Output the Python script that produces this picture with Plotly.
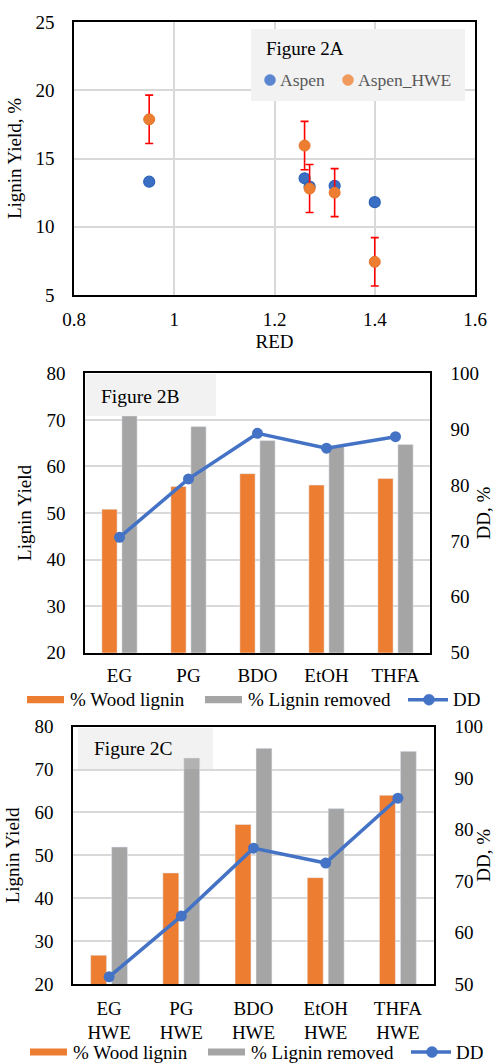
import plotly.graph_objects as go

W, H = 494, 1063
FONT = "Liberation Serif, Times New Roman, DejaVu Serif, serif"

# ---------------- Data ----------------
# Figure 2A
red_aspen = [0.95, 1.26, 1.27, 1.32, 1.40]
yield_aspen = [13.3, 13.55, 12.95, 13.0, 11.8]
red_hwe = [0.95, 1.26, 1.27, 1.32, 1.40]
yield_hwe = [17.87, 15.95, 12.8, 12.5, 7.43]
err_hwe = [1.77, 1.77, 1.76, 1.76, 1.77]

# Figure 2B
cats_b = ["EG", "PG", "BDO", "EtOH", "THFA"]
wood_b = [50.8, 55.7, 58.45, 56.0, 57.4]
removed_b = [70.85, 68.55, 65.55, 64.4, 64.7]
dd_b = [70.65, 81.1, 89.25, 86.6, 88.65]

# Figure 2C
cats_c = ["EG<br>HWE", "PG<br>HWE", "BDO<br>HWE", "EtOH<br>HWE", "THFA<br>HWE"]
wood_c = [26.7, 45.9, 57.2, 44.8, 64.0]
removed_c = [51.95, 72.7, 74.95, 60.9, 74.25]
dd_c = [51.4, 63.2, 76.4, 73.5, 86.1]

ORANGE = "#ed7d31"
GRAY = "#a5a5a5"
BLUE = "#4472c4"
GRID = "#d9d9d9"


def px_x(p):
    return p / W


def px_y(p):
    return 1 - p / H


fig = go.Figure()

# ---- Panel A ----
fig.add_trace(go.Scatter(
    x=red_aspen, y=yield_aspen, mode="markers", name="Aspen",
    marker=dict(color="#3a6fc4", size=11, line=dict(color="#2c62b8", width=1.2)),
    xaxis="x", yaxis="y", showlegend=False))
fig.add_trace(go.Scatter(
    x=red_hwe, y=yield_hwe, mode="markers", name="Aspen_HWE",
    marker=dict(color=ORANGE, size=11, line=dict(color="#e57528", width=1)),
    error_y=dict(type="data", array=err_hwe, visible=True, color="#ff0000",
                 thickness=1.6, width=4),
    xaxis="x", yaxis="y", showlegend=False))

# ---- Panel B ----
fig.add_trace(go.Bar(x=cats_b, y=wood_b, name="% Wood lignin", marker_color=ORANGE,
                     xaxis="x2", yaxis="y2", showlegend=False))
fig.add_trace(go.Bar(x=cats_b, y=removed_b, name="% Lignin removed", marker_color=GRAY,
                     xaxis="x2", yaxis="y2", showlegend=False))
fig.add_trace(go.Scatter(x=cats_b, y=dd_b, name="DD", mode="lines+markers",
                         line=dict(color=BLUE, width=3.5), marker=dict(color=BLUE, size=11),
                         xaxis="x2", yaxis="y3", showlegend=False))

# ---- Panel C ----
fig.add_trace(go.Bar(x=cats_c, y=wood_c, name="% Wood lignin", marker_color=ORANGE,
                     xaxis="x3", yaxis="y4", showlegend=False))
fig.add_trace(go.Bar(x=cats_c, y=removed_c, name="% Lignin removed", marker_color=GRAY,
                     xaxis="x3", yaxis="y4", showlegend=False))
fig.add_trace(go.Scatter(x=cats_c, y=dd_c, name="DD", mode="lines+markers",
                         line=dict(color=BLUE, width=3.5), marker=dict(color=BLUE, size=11),
                         xaxis="x3", yaxis="y5", showlegend=False))

tickfont = dict(family=FONT, size=19, color="black")
titlefont = dict(family=FONT, size=19, color="black")
frame = dict(showline=True, linecolor="black", linewidth=1.6, zeroline=False, automargin=False)
hidden_ticks = dict(ticks="outside", tickcolor="rgba(0,0,0,0)")

fig.update_layout(
    width=W, height=H, autosize=False,
    margin=dict(l=0, r=0, t=0, b=0),
    paper_bgcolor="white", plot_bgcolor="white",
    barmode="group", bargap=0.42, bargroupgap=0.24,
    font=dict(family=FONT, size=19, color="black"),
    showlegend=False,
    # Panel A axes
    xaxis=dict(domain=[px_x(74), px_x(475)], anchor="y", range=[0.8, 1.6], dtick=0.2,
               showgrid=True, gridcolor=GRID, gridwidth=1.5, mirror=True, ticklen=6,
               tickfont=tickfont, title=dict(text="RED", font=titlefont, standoff=6),
               **frame, **hidden_ticks),
    yaxis=dict(domain=[px_y(295), px_y(22)], anchor="x", range=[5, 25], dtick=5,
               showgrid=True, gridcolor=GRID, gridwidth=1.5, mirror=True, ticklen=14,
               tickfont=tickfont, title=dict(text="Lignin Yield, %", font=titlefont, standoff=9),
               **frame, **hidden_ticks),
    # Panel B axes
    xaxis2=dict(domain=[px_x(85), px_x(430)], anchor="y2", type="category",
                showgrid=False, mirror=True, ticklen=5, tickfont=tickfont,
                **frame, **hidden_ticks),
    yaxis2=dict(domain=[px_y(652.7), px_y(373.3)], anchor="x2", range=[20, 80], dtick=10,
                showgrid=True, gridcolor=GRID, gridwidth=1.5, ticklen=14, tickfont=tickfont,
                title=dict(text="Lignin Yield", font=titlefont, standoff=10),
                **frame, **hidden_ticks),
    yaxis3=dict(overlaying="y2", anchor="x2", side="right", range=[50, 100], dtick=10,
                showgrid=False, ticklen=15, tickfont=tickfont,
                title=dict(text="DD, %", font=titlefont, standoff=6),
                **frame, **hidden_ticks),
    # Panel C axes
    xaxis3=dict(domain=[px_x(73), px_x(434)], anchor="y4", type="category",
                showgrid=False, mirror=True, ticklen=6, tickfont=tickfont,
                **frame, **hidden_ticks),
    yaxis4=dict(domain=[px_y(984), px_y(726.7)], anchor="x3", range=[20, 80], dtick=10,
                showgrid=True, gridcolor=GRID, gridwidth=1.5, ticklen=14, tickfont=tickfont,
                title=dict(text="Lignin Yield", font=titlefont, standoff=10),
                **frame, **hidden_ticks),
    yaxis5=dict(overlaying="y4", anchor="x3", side="right", range=[50, 100], dtick=10,
                showgrid=False, ticklen=15, tickfont=tickfont,
                title=dict(text="DD, %", font=titlefont, standoff=6),
                **frame, **hidden_ticks),
)

shapes = []
annotations = []


def text(t, x, y, size=19, color="black"):
    annotations.append(dict(text=t, xref="paper", yref="paper", x=px_x(x), y=px_y(y),
                            xanchor="left", yanchor="middle", showarrow=False, borderpad=0,
                            font=dict(family=FONT, size=size, color=color)))


def rect(x0, x1, y0, y1, fill):
    shapes.append(dict(type="rect", xref="paper", yref="paper",
                       x0=px_x(x0), x1=px_x(x1), y0=px_y(y1), y1=px_y(y0),
                       fillcolor=fill, line=dict(width=0), layer="above"))


def dot(cx, cy, r, col):
    shapes.append(dict(type="circle", xref="paper", yref="paper",
                       x0=px_x(cx - r), x1=px_x(cx + r), y0=px_y(cy + r), y1=px_y(cy - r),
                       fillcolor=col, line=dict(color=col, width=0.5), layer="above"))


# Panel A legend box (Figure 2A)
rect(251, 465, 29, 101, "#f2f2f2")
text("Figure 2A", 265, 48, size=19)
dot(270, 80, 5.5, "#5b86cf")
text("Aspen", 279, 80, size=17.5, color="#595959")
dot(348, 80, 5.5, "#f09a5e")
text("Aspen_HWE", 357, 80, size=17.5, color="#595959")

# Panel B label box
rect(85.8, 216, 374, 416, "#f2f2f2")
text("Figure 2B", 100, 396, size=19.5)

# Panel C label box
rect(78, 213, 728, 769, "rgba(210,210,210,0.29)")
text("Figure 2C", 92.5, 748, size=19.5)


# Legends for panels B and C
def bottom_legend(y, dx):
    rect(27 + dx, 64 + dx, y - 3.6, y + 3.6, ORANGE)
    text("% Wood lignin", 69 + dx, y)
    rect(205 + dx, 242 + dx, y - 3.6, y + 3.6, GRAY)
    text("% Lignin removed", 246.5 + dx, y)
    shapes.append(dict(type="line", xref="paper", yref="paper",
                       x0=px_x(408 + dx), x1=px_x(448 + dx), y0=px_y(y), y1=px_y(y),
                       line=dict(color=BLUE, width=3.5), layer="above"))
    dot(429 + dx, y, 5.5, BLUE)
    text("DD", 451.5 + dx, y)


bottom_legend(699.7, 0)
bottom_legend(1052, 3)

fig.update_layout(shapes=shapes, annotations=annotations)

fig.write_html("out.html")
